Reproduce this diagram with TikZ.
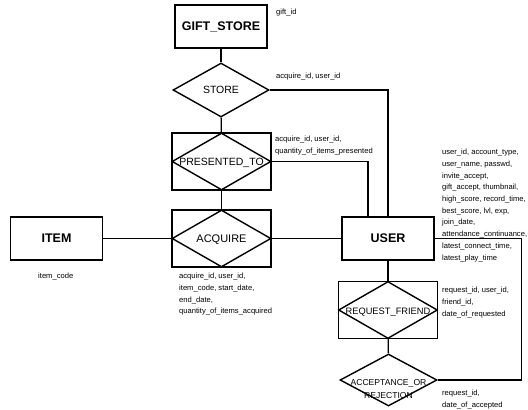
\documentclass[tikz,border=0pt]{standalone}
\usepackage{fontspec}
\setmainfont{Liberation Sans}
\usetikzlibrary{shapes.geometric,positioning,calc}

\begin{document}
\begin{tikzpicture}[
    x=1pt, y=-1pt,
    entity/.style={rectangle, draw, line width=1.4pt, minimum width=92pt, minimum height=43pt, inner sep=0pt, font=\fontsize{12.5}{14}\selectfont\bfseries},
    assoc/.style={rectangle, draw, line width=1.4pt, minimum width=99pt, minimum height=57pt, inner sep=0pt},
    rel/.style={diamond, draw, line width=1.4pt, minimum width=97pt, minimum height=54pt, inner sep=0pt},
    rlabel/.style={font=\fontsize{#1}{12.5}\selectfont, inner sep=0pt},
    attr/.style={anchor=north west, inner sep=0pt, align=left, font=\fontsize{7.6}{11.7}\selectfont},
    link/.style={line width=1.4pt},
  ]
    \useasboundingbox (0,0) rectangle (528,410);

    % Entities
    \node[entity] (gift) at (221,26.5) {GIFT\_STORE};
    \node[entity] (item) at (56.5,238.5) {ITEM};
    \node[entity] (usr) at (388,238.5) {USER};

    % Relationships
    \node[rel, minimum width=96pt, label={[rlabel=10.5]center:STORE}] (store) at (221,90) {};
    \node[assoc] (presbox) at (221.5,161.5) {};
    \node[rel, minimum width=99pt, minimum height=57pt, label={[rlabel=10.5, yshift=-1pt]center:PRESENTED\_TO}] (pres) at (presbox) {};
    \node[assoc] (acqbox) at (221.5,238.5) {};
    \node[rel, minimum width=99pt, minimum height=57pt, label={[rlabel=11, yshift=-1pt]center:ACQUIRE}] (acq) at (acqbox) {};
    \node[assoc] (reqbox) at (388,310) {};
    \node[rel, minimum width=99pt, minimum height=57pt, label={[rlabel=9.3, yshift=-2pt]center:REQUEST\_FRIEND}] (req) at (reqbox) {};
    \node[rel, minimum height=52pt, label={[rlabel=8.6, align=center, yshift=-9pt]center:ACCEPTANCE\_OR\\REJECTION}] (acc) at (388.5,380) {};

    % Attributes
    \node[attr] (giftattr) at (276,9) {gift\_id};
    \node[attr] (storeattr) at (276,73) {acquire\_id, user\_id};
    \node[attr] (presattr) at (275,136) {acquire\_id, user\_id,\\quantity\_of\_items\_presented};
    \node[attr] (itemattr) at (38,273) {item\_code};
    \node[attr] (acqattr) at (179,273) {acquire\_id, user\_id,\\item\_code, start\_date,\\end\_date,\\quantity\_of\_items\_acquired};
    \node[attr] (usrattr) at (442,149) {user\_id, account\_type,\\user\_name, passwd,\\invite\_accept,\\gift\_accept, thumbnail,\\high\_score, record\_time,\\best\_score, lvl, exp,\\join\_date,\\attendance\_continuance,\\latest\_connect\_time,\\latest\_play\_time};
    \node[attr] (reqattr) at (442,287) {request\_id, user\_id,\\friend\_id,\\date\_of\_requested};
    \node[attr] (accattr) at (442,390) {request\_id,\\date\_of\_accepted};

    % Links
    \draw[link] (gift) -- (store);
    \draw[link] (store) -- (pres);
    \draw[link] (pres) -- (acq);
    \draw[link] (item) -- (acq);
    \draw[link] (acq) -- (usr);
    \draw[link] (store.east) -| (usr.north);
    \draw[link] (pres.east) -| ([xshift=-20pt]usr.north);
    \draw[link] (usr) -- (req);
    \draw[link] (req) -- (acc);
    \draw[link] (usr.east) -| ([xshift=84pt]acc.east) -- (acc.east);
  \end{tikzpicture}
\end{document}
